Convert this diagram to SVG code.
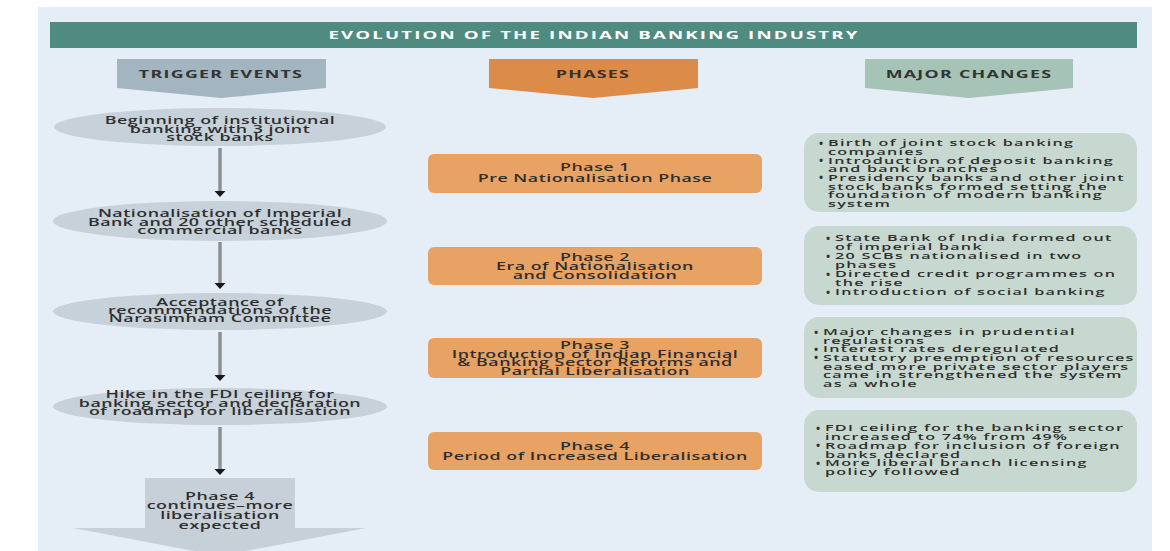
<svg xmlns="http://www.w3.org/2000/svg" width="1170" height="551" viewBox="0 0 1170 551">
<defs>
<style>
.t{font-family:"Open Sans","Noto Sans","Liberation Sans",sans-serif;font-size:10.5px;font-weight:600;letter-spacing:0.3px;fill:#2e2e2e;text-anchor:middle}
.r{font-size:9.5px;letter-spacing:0.75px;text-anchor:start}
.h{font-weight:bold;letter-spacing:0.75px;fill:#333}
.ttl{font-weight:bold;font-size:11px;letter-spacing:1.25px;fill:#ffffff}
.b{font-family:"Open Sans","Noto Sans",sans-serif;font-size:11px;font-weight:bold;fill:#333;text-anchor:middle}
.ell{fill:#c7d1d9}
.ph{fill:#e8a264}
.ch{fill:#c6d8cf}
.conn{stroke:#8b9096;stroke-width:3.5;fill:none}
</style>
<marker id="ah" markerUnits="userSpaceOnUse" markerWidth="8" markerHeight="12" refX="1" refY="5.5" orient="auto">
<path d="M0,0 L6,5.5 L0,11 z" fill="#1a1a1a"/>
</marker>
</defs>
<rect x="0" y="0" width="1170" height="551" fill="#ffffff"/>
<rect x="38" y="7" width="1114" height="544" fill="#e5edf6"/>

<g id="title">
<rect x="50" y="22" width="1087" height="26" fill="#4f8b81"/>
<text class="t ttl" transform="translate(594,39) scale(1.7,1)" x="0" y="0">EVOLUTION OF THE INDIAN BANKING INDUSTRY</text>
</g>

<g id="header-trigger">
<polygon points="117,59 326,59 326,88 221,98 117,88" fill="#a3b5c0"/>
<text class="t h" transform="translate(221,78) scale(1.7,1)" x="0" y="0">TRIGGER EVENTS</text>
</g>
<g id="header-phases">
<polygon points="489,59 698,59 698,88 593,98 489,88" fill="#dd8b48"/>
<text class="t h" transform="translate(593,78) scale(1.7,1)" x="0" y="0">PHASES</text>
</g>
<g id="header-changes">
<polygon points="865,59 1073,59 1073,88 969,98 865,88" fill="#a5c3b7"/>
<text class="t h" transform="translate(969,78) scale(1.7,1)" x="0" y="0">MAJOR CHANGES</text>
</g>

<g id="connectors">
<line class="conn" x1="220" y1="148" x2="220" y2="192" marker-end="url(#ah)"/>
<line class="conn" x1="220" y1="242" x2="220" y2="284" marker-end="url(#ah)"/>
<line class="conn" x1="220" y1="332" x2="220" y2="376" marker-end="url(#ah)"/>
<line class="conn" x1="220" y1="427" x2="220" y2="470" marker-end="url(#ah)"/>
</g>

<g id="trigger-1">
<ellipse class="ell" cx="220" cy="127" rx="166" ry="19"/>
<text class="t" transform="translate(220,123.5) scale(1.7,1)"><tspan x="0" y="0">Beginning of institutional</tspan><tspan x="0" dy="9">banking with 3 joint</tspan><tspan x="0" dy="9">stock banks</tspan></text>
</g>
<g id="trigger-2">
<ellipse class="ell" cx="220" cy="221" rx="167" ry="20"/>
<text class="t" transform="translate(220,216.5) scale(1.7,1)"><tspan x="0" y="0">Nationalisation of Imperial</tspan><tspan x="0" dy="9">Bank and 20 other scheduled</tspan><tspan x="0" dy="9">commercial banks</tspan></text>
</g>
<g id="trigger-3">
<ellipse class="ell" cx="220" cy="311.5" rx="167" ry="18.5"/>
<text class="t" transform="translate(220,305.5) scale(1.7,1)"><tspan x="0" y="0">Acceptance of</tspan><tspan x="0" dy="8.5">recommendations of the</tspan><tspan x="0" dy="8.5">Narasimham Committee</tspan></text>
</g>
<g id="trigger-4">
<ellipse class="ell" cx="220" cy="406.5" rx="167" ry="18.5"/>
<text class="t" transform="translate(220,397.5) scale(1.7,1)"><tspan x="0" y="0">Hike in the FDI ceiling for</tspan><tspan x="0" dy="9">banking sector and declaration</tspan><tspan x="0" dy="9">of roadmap for liberalisation</tspan></text>
</g>
<g id="trigger-5">
<polygon points="145,478 295,478 295,528 366,528 220,556 73,528 145,528" fill="#c7d0d8"/>
<text class="t" transform="translate(220,499.5) scale(1.7,1)"><tspan x="0" y="0">Phase 4</tspan><tspan x="0" dy="9.8">continues–more</tspan><tspan x="0" dy="9.8">liberalisation</tspan><tspan x="0" dy="9.8">expected</tspan></text>
</g>

<g id="phase-1">
<rect class="ph" x="428" y="154" width="334" height="39" rx="6"/>
<text class="t" transform="translate(595,171) scale(1.7,1)"><tspan x="0" y="0">Phase 1</tspan><tspan x="0" dy="10.5">Pre Nationalisation Phase</tspan></text>
</g>
<g id="phase-2">
<rect class="ph" x="428" y="247" width="334" height="38" rx="6"/>
<text class="t" transform="translate(595,260.5) scale(1.7,1)"><tspan x="0" y="0">Phase 2</tspan><tspan x="0" dy="9.5">Era of Nationalisation</tspan><tspan x="0" dy="9.5">and Consolidation</tspan></text>
</g>
<g id="phase-3">
<rect class="ph" x="428" y="338" width="334" height="40" rx="6"/>
<text class="t" transform="translate(595,348.5) scale(1.7,1)"><tspan x="0" y="0">Phase 3</tspan><tspan x="0" dy="9">Introduction of Indian Financial</tspan><tspan x="0" dy="9">&amp; Banking Sector Reforms and</tspan><tspan x="0" dy="9">Partial Liberalisation</tspan></text>
</g>
<g id="phase-4">
<rect class="ph" x="428" y="432" width="334" height="38" rx="6"/>
<text class="t" transform="translate(595,449.5) scale(1.7,1)"><tspan x="0" y="0">Phase 4</tspan><tspan x="0" dy="10.5">Period of Increased Liberalisation</tspan></text>
</g>

<g id="change-1">
<rect class="ch" x="804" y="133" width="333" height="79" rx="15"/>
<text class="b" x="821" y="146.6">•</text>
<text class="b" x="821" y="163.9">•</text>
<text class="b" x="821" y="181.2">•</text>
<text class="t r" transform="translate(828,146.3) scale(1.7,1)"><tspan x="0" y="0">Birth of joint stock banking</tspan><tspan x="0" dy="8.65">companies</tspan><tspan x="0" dy="8.65">Introduction of deposit banking</tspan><tspan x="0" dy="8.65">and bank branches</tspan><tspan x="0" dy="8.65">Presidency banks and other joint</tspan><tspan x="0" dy="8.65">stock banks formed setting the</tspan><tspan x="0" dy="8.65">foundation of modern banking</tspan><tspan x="0" dy="8.65">system</tspan></text>
</g>
<g id="change-2">
<rect class="ch" x="804" y="226" width="333" height="79" rx="15"/>
<text class="b" x="828" y="241.6">•</text>
<text class="b" x="828" y="259.6">•</text>
<text class="b" x="828" y="277.6">•</text>
<text class="b" x="828" y="295.6">•</text>
<text class="t r" transform="translate(835,241.3) scale(1.7,1)"><tspan x="0" y="0">State Bank of India formed out</tspan><tspan x="0" dy="9">of imperial bank</tspan><tspan x="0" dy="9">20 SCBs nationalised in two</tspan><tspan x="0" dy="9">phases</tspan><tspan x="0" dy="9">Directed credit programmes on</tspan><tspan x="0" dy="9">the rise</tspan><tspan x="0" dy="9">Introduction of social banking</tspan></text>
</g>
<g id="change-3">
<rect class="ch" x="804" y="317" width="333" height="81" rx="15"/>
<text class="b" x="816" y="335.6">•</text>
<text class="b" x="816" y="352.8">•</text>
<text class="b" x="816" y="361.4">•</text>
<text class="t r" transform="translate(823,335.3) scale(1.7,1)"><tspan x="0" y="0">Major changes in prudential</tspan><tspan x="0" dy="8.6">regulations</tspan><tspan x="0" dy="8.6">Interest rates deregulated</tspan><tspan x="0" dy="8.6">Statutory preemption of resources</tspan><tspan x="0" dy="8.6">eased more private sector players</tspan><tspan x="0" dy="8.6">came in strengthened the system</tspan><tspan x="0" dy="8.6">as a whole</tspan></text>
</g>
<g id="change-4">
<rect class="ch" x="804" y="410" width="333" height="82" rx="15"/>
<text class="b" x="818" y="431.6">•</text>
<text class="b" x="818" y="449.2">•</text>
<text class="b" x="818" y="466.8">•</text>
<text class="t r" transform="translate(825,431.3) scale(1.7,1)"><tspan x="0" y="0">FDI ceiling for the banking sector</tspan><tspan x="0" dy="8.8">increased to 74% from 49%</tspan><tspan x="0" dy="8.8">Roadmap for inclusion of foreign</tspan><tspan x="0" dy="8.8">banks declared</tspan><tspan x="0" dy="8.8">More liberal branch licensing</tspan><tspan x="0" dy="8.8">policy followed</tspan></text>
</g>
</svg>
